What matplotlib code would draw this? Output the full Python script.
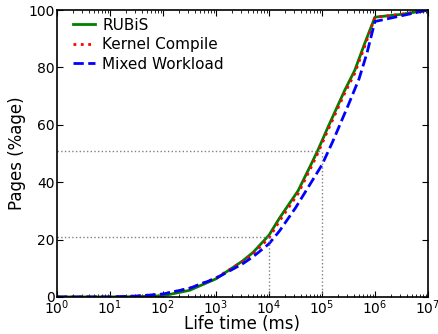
import numpy as np
import matplotlib
matplotlib.use('Agg')
import matplotlib.pyplot as plt

# log10 of life time (ms) and cumulative % of pages
rubis_logx = [0, 1, 1.5, 2, 2.5, 3, 3.3, 3.5, 3.7, 4.0, 4.2, 4.55, 4.79, 4.92, 5.11, 5.43, 5.62, 5.81, 6.0, 6.5, 7.0]
rubis_y = [0, 0, 0.1, 0.4, 2.3, 6.3, 10, 12.5, 15.5, 21.5, 27.5, 37, 46, 51, 59, 72, 79, 88.5, 97.5, 98.5, 100]

kernel_logx = [0, 1, 1.5, 2, 2.5, 3, 3.3, 3.5, 3.7, 4.0, 4.2, 4.55, 4.79, 4.92, 5.11, 5.43, 5.62, 5.81, 6.0, 6.5, 7.0]
kernel_y = [0, 0, 0.3, 1.0, 3.0, 6.6, 10, 12.3, 15, 20.5, 26.5, 36, 45, 50, 58, 71, 78, 87.5, 97.5, 98.5, 100]

mixed_logx = [0, 1, 1.5, 2, 2.5, 3, 3.3, 3.5, 3.7, 4.0, 4.2, 4.5, 4.8, 5.0, 5.2, 5.5, 5.7, 5.85, 6.0, 6.5, 7.0]
mixed_y = [0, 0, 0.3, 1.0, 3.0, 6.5, 9.5, 11.5, 14, 18.5, 23, 31, 40, 46, 54, 67, 76, 85, 96, 98, 100]

ref_x = [1e4, 1e5]
ref_y = [21, 51]


def main():
  fig = plt.figure(figsize=(4.38, 3.34), dpi=100)
  ax = fig.add_axes([0.130, 0.111, 0.847, 0.859])

  ax.plot(10 ** np.array(rubis_logx), rubis_y, color='green', ls='-', lw=2, label='RUBiS')
  ax.plot(10 ** np.array(kernel_logx), kernel_y, color='red', ls=':', lw=2, label='Kernel Compile')
  ax.plot(10 ** np.array(mixed_logx), mixed_y, color='blue', ls='--', lw=2, label='Mixed Workload')

  for rx, ry in zip(ref_x, ref_y):
    ax.plot([1, rx], [ry, ry], color='gray', ls=':', lw=1)
    ax.plot([rx, rx], [0, ry], color='gray', ls=':', lw=1)

  ax.set_xscale('log')
  ax.set_xlim(1, 1e7)
  ax.set_ylim(0, 100)
  ax.set_yticks([0, 20, 40, 60, 80, 100])
  ax.tick_params(which='both', direction='in', top=True, right=True, labelsize=10)
  ax.tick_params(which='major', length=4)
  ax.tick_params(which='minor', length=2)
  ax.tick_params(axis='y', pad=1.5)
  ax.tick_params(axis='x', pad=1)
  ax.set_xlabel('Life time (ms)', fontsize=12, labelpad=-1.5)
  ax.set_ylabel('Pages (%age)', fontsize=12, labelpad=2)
  ax.legend(loc='upper left', frameon=False, fontsize=11, handlelength=1.45,
            bbox_to_anchor=(0.027, 0.995), borderaxespad=0, labelspacing=0.3,
            handletextpad=0.46)
  for s in ax.spines.values():
    s.set_linewidth(1.2)

  plt.savefig('out.png', dpi=100)
  plt.close('all')


if __name__ == "__main__":
  main()
